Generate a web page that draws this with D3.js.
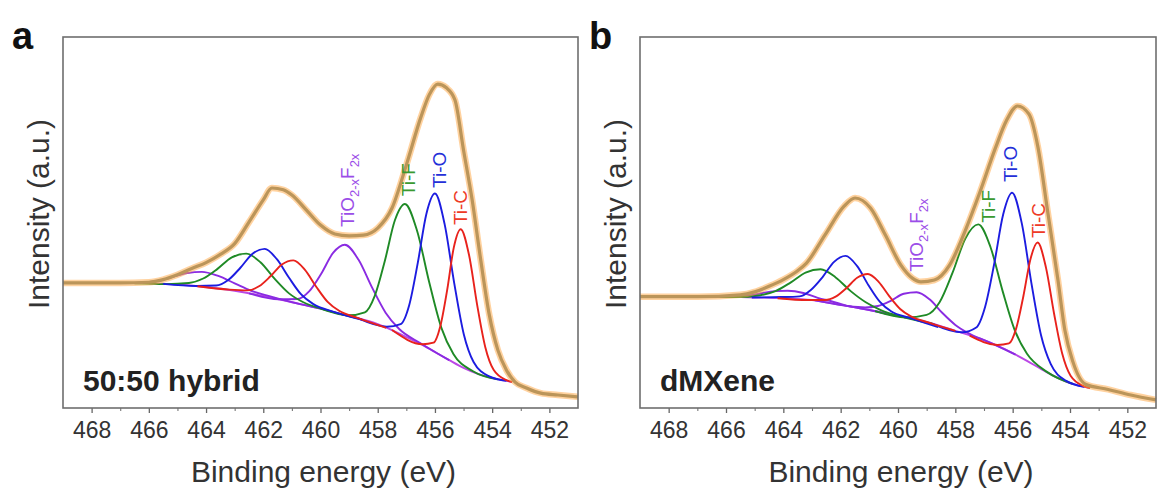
<!DOCTYPE html>
<html>
<head>
<meta charset="utf-8">
<script src="https://cdn.jsdelivr.net/npm/d3@7"></script>
<style>
  body { margin: 0; background: #fff; }
  svg text { font-family: "Liberation Sans", Arial, Helvetica, sans-serif; }
</style>
</head>
<body>
<svg id="chart" width="1171" height="493"></svg>
<script>
// ---- data (binding energy in eV, intensity in arbitrary units) ----
const energyTicks = [468, 466, 464, 462, 460, 458, 456, 454, 452];
const minorTicks = [467, 465, 463, 461, 459, 457, 455, 453];
const species = ['TiO2-xF2x', 'Ti-F', 'Ti-O', 'Ti-C'];

// panel a: 50:50 hybrid
const hybridEnvelope = [[469,33.7],[468,33.7],[467,33.7],[466,33.9],[465.5,34.6],[465,35.9],[464.5,37.6],[464,39.2],[463.5,41.4],[463,44.3],[462.5,50.1],[462,56.1],[461.7,59.3],[461.3,58.8],[461,57.4],[460.5,53.4],[460,49.3],[459.5,46.9],[459,46.4],[458.5,46.6],[458,48.5],[457.5,53.9],[457,65.5],[456.5,78.2],[456.2,84.4],[455.9,87.3],[455.6,86.3],[455.3,83.0],[455,69.5],[454.7,56.1],[454.4,39.9],[454.1,25.1],[453.8,15.6],[453.5,10.2],[453.2,7.0],[452.8,5.4],[452.3,4.0],[451.7,3.5],[451,3.0]];
const hybridBackground = [[466,33.6],[465,33.3],[464,32.6],[463,31.6],[462,30.2],[461,28.5],[460,26.8],[459,24.8],[458,22.6],[457.5,21.0],[457,19.1],[456.5,17.3],[456,15.1],[455.5,12.9],[455,10.8],[454.5,9.2],[454,8.1],[453.5,7.3],[453.3,7.0]];
const hybridTiOF32 = [[462.5,30.9],[461.46,29.3],[460.8,29.4],[460.39,31.5],[459.975,36.2],[459.56,41.8],[459.15,44.0],[458.675,40.0],[458.2,32.5],[457.725,25.7],[457.25,21.3],[456.49,17.4],[455.5,12.9]];
const hybridTiOF12 = [[468,33.7],[466.95,33.7],[466.15,33.85],[465.65,34.3],[465.15,35.35],[464.65,36.4],[464.15,36.7],[463.575,35.6],[463.0,33.6],[462.425,31.6],[461.85,30.3],[460.93,28.4],[460,26.8]];
const hybridTiF32 = [[460,26.8],[459.01,25.0],[458.45,25.8],[458.1,30.3],[457.75,39.7],[457.4,50.6],[457.05,55.0],[456.625,47.8],[456.2,33.9],[455.775,21.6],[455.35,14.5],[454.67,9.9],[453.8,7.7]];
const hybridTiF12 = [[466.5,33.6],[465.4,33.4],[464.6,33.7],[464.1,34.9],[463.6,37.5],[463.1,40.6],[462.6,41.6],[462.1,39.3],[461.6,34.8],[461.1,30.9],[460.6,28.5],[459.8,26.4],[458.8,24.4]];
const hybridTiO32 = [[458.7,24.2],[457.68,21.9],[457.2,22.6],[456.9,27.7],[456.6,39.1],[456.3,52.3],[456.0,57.8],[455.66,49.5],[455.325,33.6],[454.99,19.8],[454.65,12.4],[454.1,8.5],[453.5,7.3]];
const hybridTiO12 = [[465.5,33.45],[464.33,32.9],[463.65,33.0],[463.225,34.5],[462.8,37.8],[462.375,41.6],[461.95,42.9],[461.525,40.1],[461.1,35.1],[460.675,30.6],[460.25,28.0],[459.57,26.0],[458.5,23.7]];
const hybridTiC32 = [[457.5,21.0],[456.43,17.2],[456.05,17.6],[455.81,22.1],[455.575,31.7],[455.34,43.3],[455.1,48.2],[454.81,41.3],[454.525,27.8],[454.24,16.4],[453.95,10.3],[453.5,7.5],[453.3,7.0]];
const hybridTiC12 = [[464.3,32.8],[463.19,31.9],[462.55,31.7],[462.15,32.8],[461.75,35.5],[461.35,38.7],[460.95,39.8],[460.55,37.3],[460.15,32.7],[459.75,28.6],[459.35,26.2],[458.71,24.3],[457.7,21.6]];
const hybridLabelAt = [[458.83,48.8],[456.70,57.1],[455.61,59.3],[454.88,49.3]];

// panel b: dMXene
const dmxEnvelope = [[469,30.0],[467,30.0],[465.5,30.5],[465,31.3],[464.5,32.8],[464,34.6],[463.5,37.0],[463.2,39.0],[462.55,46.6],[461.88,54.4],[461.5,56.6],[460.96,53.9],[460.44,46.6],[459.9,38.5],[459.5,35.0],[459.2,34.0],[458.73,34.5],[458.2,38.5],[457.67,47.5],[457.15,58.0],[456.6,70.1],[456.22,77.4],[455.83,81.4],[455.43,79.2],[455.12,70.4],[454.77,52.5],[454.42,34.5],[454.18,21.0],[453.9,12.5],[453.46,6.4],[452.67,5.0],[451.88,3.5],[451,2.2]];
const dmxBackground = [[466,30.0],[465,29.8],[464,29.6],[463,29.1],[462,27.8],[461,26.4],[460,24.8],[459,23.2],[458,20.8],[457,18.3],[456.5,16.7],[456,14.8],[455.5,12.7],[455,10.5],[454.5,8.4],[454,6.7],[453.5,5.7],[453.3,5.4]];
const dmxTiOF32 = [[462.9,29.0],[461.85,27.6],[461.15,27.1],[460.7,27.5],[460.25,28.9],[459.8,30.8],[459.35,31.2],[458.9,29.3],[458.45,25.6],[458.0,22.4],[457.55,20.2],[456.85,17.8],[455.9,14.4]];
const dmxTiOF12 = [[467.5,30.0],[466.6,30.0],[465.8,30.0],[465.3,30.2],[464.8,30.9],[464.3,31.5],[463.85,31.6],[463.3,31.0],[462.8,29.7],[462.3,28.7],[461.8,27.6],[461.0,26.4],[460,24.8]];
const dmxTiF32 = [[460.8,26.1],[459.72,24.4],[459.0,25.1],[458.55,28.5],[458.1,36.4],[457.65,45.7],[457.2,49.5],[456.775,43.4],[456.35,31.5],[455.925,20.9],[455.5,14.6],[454.82,9.8],[453.9,6.5]];
const dmxTiF12 = [[466.6,30.0],[465.64,29.9],[464.8,30.4],[464.275,31.5],[463.75,33.8],[463.225,36.5],[462.7,37.4],[462.175,35.2],[461.65,31.5],[461.125,28.5],[460.6,26.4],[459.76,24.4],[458.8,22.7]];
const dmxTiO32 = [[458.8,22.7],[457.77,20.4],[457.27,21.7],[456.96,27.3],[456.645,38.8],[456.33,52.2],[456.02,58.0],[455.68,49.7],[455.345,33.6],[455.01,19.6],[454.67,11.8],[454.13,7.3],[453.5,5.7]];
const dmxTiO12 = [[465.1,29.8],[464.07,29.9],[463.43,30.1],[463.03,31.9],[462.63,35.3],[462.23,39.4],[461.83,41.0],[461.43,38.3],[461.03,33.1],[460.63,28.6],[460.23,26.0],[459.59,24.3],[458.6,21.8]];
const dmxTiC32 = [[457.5,19.5],[456.53,17.0],[456.13,17.4],[455.88,21.4],[455.63,30.0],[455.38,40.1],[455.13,44.6],[454.84,37.9],[454.555,25.4],[454.27,14.6],[453.98,8.7],[453.52,5.9],[453.3,5.4]];
const dmxTiC12 = [[464.2,29.6],[463.15,29.1],[462.55,29.1],[462.175,30.0],[461.8,32.3],[461.425,35.1],[461.05,36.1],[460.675,34.0],[460.3,30.1],[459.925,26.7],[459.55,24.7],[458.95,23.1],[458,20.8]];
const dmxLabelAt = [[459.13,36.7],[456.62,49.9],[455.85,60.9],[454.87,45.8]];

// ---- styles ----
const lineColors = { 'TiO2-xF2x': '#8a2be2', 'Ti-F': '#1f8a26', 'Ti-O': '#1c1ce0', 'Ti-C': '#e8221c' };
const labelColors = { 'TiO2-xF2x': '#9b4de8', 'Ti-F': '#3a9a30', 'Ti-O': '#2430d8', 'Ti-C': '#ee3a26' };
const bgColor = '#bb48e6';

const svg = d3.select('#chart');
const plotTop = 37, plotBottom = 408;

const panels = [
    {
        letter: 'a', name: '50:50 hybrid', left: 63, right: 578,
        envelope: hybridEnvelope, background: hybridBackground,
        peaks: [
            ['TiO2-xF2x', hybridTiOF32], ['TiO2-xF2x', hybridTiOF12],
            ['Ti-F', hybridTiF32], ['Ti-F', hybridTiF12],
            ['Ti-O', hybridTiO32], ['Ti-O', hybridTiO12],
            ['Ti-C', hybridTiC32], ['Ti-C', hybridTiC12]
        ],
        labels: hybridLabelAt
    },
    {
        letter: 'b', name: 'dMXene', left: 640, right: 1156,
        envelope: dmxEnvelope, background: dmxBackground,
        peaks: [
            ['TiO2-xF2x', dmxTiOF32], ['TiO2-xF2x', dmxTiOF12],
            ['Ti-F', dmxTiF32], ['Ti-F', dmxTiF12],
            ['Ti-O', dmxTiO32], ['Ti-O', dmxTiO12],
            ['Ti-C', dmxTiC32], ['Ti-C', dmxTiC12]
        ],
        labels: dmxLabelAt
    }
];

panels.forEach(p => {
    const x = d3.scaleLinear().domain([469, 451]).range([p.left, p.right]);
    const y = d3.scaleLinear().domain([0, 100]).range([plotBottom, plotTop]);
    const line = d3.line()
        .x(d => x(d[0]))
        .y(d => y(d[1]))
        .curve(d3.curveMonotoneX);

    const g = svg.append('g');

    // axis ticks (major + minor)
    const axis = g.append('g')
        .attr('transform', `translate(0,${plotBottom})`)
        .call(d3.axisBottom(x).tickValues(energyTicks).tickSize(5).tickPadding(9).tickFormat(d3.format('d')));
    axis.select('.domain').remove();
    axis.selectAll('line').attr('stroke', '#666').attr('stroke-width', 1.3);
    axis.selectAll('text')
        .attr('fill', '#333')
        .style('font-size', '23px');

    const minor = g.append('g')
        .attr('transform', `translate(0,${plotBottom})`)
        .call(d3.axisBottom(x).tickValues(minorTicks).tickSize(3).tickFormat(''));
    minor.select('.domain').remove();
    minor.selectAll('line').attr('stroke', '#777').attr('stroke-width', 1.1);

    // background and component peaks
    g.append('path')
        .datum(p.background)
        .attr('d', line)
        .attr('fill', 'none')
        .attr('stroke', bgColor)
        .attr('stroke-width', 1.9);

    p.peaks.forEach(([sp, pts]) => {
        g.append('path')
            .datum(pts)
            .attr('d', line)
            .attr('fill', 'none')
            .attr('stroke', lineColors[sp])
            .attr('stroke-width', 1.9);
    });

    // measured data + envelope
    g.append('path')
        .datum(p.envelope)
        .attr('d', line)
        .attr('fill', 'none')
        .attr('stroke', '#ffa640')
        .attr('stroke-opacity', 0.5)
        .attr('stroke-width', 6.5);
    g.append('path')
        .datum(p.envelope)
        .attr('d', line)
        .attr('fill', 'none')
        .attr('stroke', '#bb955a')
        .attr('stroke-width', 3.2);

    // peak labels (rotated)
    species.forEach((sp, i) => {
        const [le, lv] = p.labels[i];
        const t = g.append('text')
            .attr('transform', `translate(${x(le)},${y(lv)}) rotate(-90)`)
            .attr('fill', labelColors[sp])
            .style('font-size', '19px');
        if (sp === 'TiO2-xF2x') {
            t.append('tspan').text('TiO');
            t.append('tspan').attr('dy', 5).style('font-size', '13px').text('2-x');
            t.append('tspan').attr('dy', -5).text('F');
            t.append('tspan').attr('dy', 5).style('font-size', '13px').text('2x');
        } else {
            t.text(sp);
        }
    });

    // frame
    g.append('rect')
        .attr('x', p.left)
        .attr('y', plotTop)
        .attr('width', p.right - p.left)
        .attr('height', plotBottom - plotTop)
        .attr('fill', 'none')
        .attr('stroke', '#6e6e6e')
        .attr('stroke-width', 1.6);

    // sample name
    g.append('text')
        .attr('x', p.left + 20)
        .attr('y', 391)
        .style('font-size', '30px')
        .style('font-weight', 'bold')
        .attr('fill', '#222')
        .text(p.name);

    // panel letter
    g.append('text')
        .attr('x', p.left - 51)
        .attr('y', 49)
        .style('font-size', '38px')
        .style('font-weight', 'bold')
        .attr('fill', '#111')
        .text(p.letter);

    // axis titles
    g.append('text')
        .attr('x', (p.left + p.right) / 2 + 3)
        .attr('y', 482)
        .attr('text-anchor', 'middle')
        .style('font-size', '30px')
        .attr('fill', '#333')
        .text('Binding energy (eV)');

    g.append('text')
        .attr('transform', `translate(${p.left - 14},214) rotate(-90)`)
        .attr('text-anchor', 'middle')
        .style('font-size', '30px')
        .attr('fill', '#333')
        .text('Intensity (a.u.)');
});
</script>
</body>
</html>
